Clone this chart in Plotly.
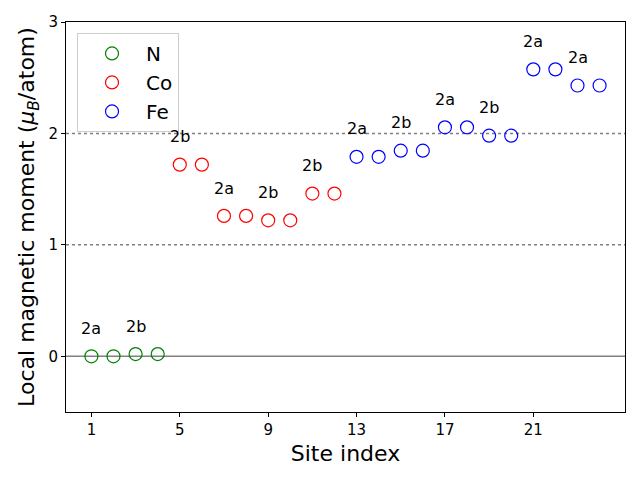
import plotly.graph_objects as go

# Data
n_sites = [1, 2, 3, 4]
n_moments = [0.0, 0.0, 0.02, 0.02]
co_sites = [5, 6, 7, 8, 9, 10, 11, 12]
co_moments = [1.72, 1.72, 1.26, 1.26, 1.22, 1.22, 1.46, 1.46]
fe_sites = [13, 14, 15, 16, 17, 18, 19, 20, 21, 22, 23, 24]
fe_moments = [1.79, 1.79, 1.845, 1.845, 2.055, 2.055, 1.98, 1.98, 2.575, 2.575, 2.43, 2.43]

label_sites = [1, 3, 5, 7, 9, 11, 13, 15, 17, 19, 21, 23]
label_texts = ["2a", "2b", "2b", "2a", "2b", "2b", "2a", "2b", "2a", "2b", "2a", "2a"]
label_offset = 0.25

x_ticks = [1, 5, 9, 13, 17, 21]
y_ticks = [0, 1, 2, 3]
ref_solid = [0]
ref_dotted = [1, 2]

FONT = "DejaVu Sans"
fig = go.Figure()

series = [("N", n_sites, n_moments, "green"),
          ("Co", co_sites, co_moments, "red"),
          ("Fe", fe_sites, fe_moments, "blue")]
for name, xs, ys, col in series:
    fig.add_trace(go.Scatter(x=xs, y=ys, mode="markers", name=name,
                             marker=dict(symbol="circle-open", size=13,
                                         color=col, line=dict(width=1.2, color=col))))

all_sites = n_sites + co_sites + fe_sites
all_moments = n_moments + co_moments + fe_moments
lookup = dict(zip(all_sites, all_moments))
for s, t in zip(label_sites, label_texts):
    fig.add_annotation(x=s, y=lookup[s] + label_offset, text=t, showarrow=False,
                       xanchor="center", yanchor="middle",
                       font=dict(family=FONT, size=16, color="black"))

for yv in ref_solid:
    fig.add_shape(type="line", xref="paper", x0=0, x1=1, y0=yv, y1=yv,
                  line=dict(color="gray", width=1.5), layer="below")
for yv in ref_dotted:
    fig.add_shape(type="line", xref="paper", x0=0, x1=1, y0=yv, y1=yv,
                  line=dict(color="gray", width=1.5, dash="dot"), layer="below")

fig.update_layout(
    width=640, height=480,
    margin=dict(l=58, r=23, t=14, b=76),
    paper_bgcolor="white", plot_bgcolor="white",
    font=dict(family=FONT, color="black"),
    legend=dict(x=0.0197, y=0.972, xanchor="left", yanchor="top",
                font=dict(family=FONT, size=20),
                bgcolor="rgba(255,255,255,0.8)", bordercolor="#cccccc", borderwidth=1,
                itemwidth=58),
    xaxis=dict(range=[-0.15, 25.15], tickvals=x_ticks, showgrid=False, zeroline=False,
               showline=True, mirror=True, linecolor="black", linewidth=1,
               ticks="outside", ticklen=4, tickcolor="black", automargin=False,
               tickfont=dict(size=15),
               title=dict(text="Site index", font=dict(size=22), standoff=7)),
    yaxis=dict(range=[-0.5, 3], tickvals=y_ticks, showgrid=False, zeroline=False,
               showline=True, mirror=True, linecolor="black", linewidth=1,
               ticks="outside", ticklen=4, tickcolor="black", automargin=False,
               tickfont=dict(size=15),
               title=dict(text="Local magnetic moment (<i>μ<sub>B</sub></i>/atom)",
                          font=dict(size=22), standoff=7)),
)

fig.write_html("out.html")
